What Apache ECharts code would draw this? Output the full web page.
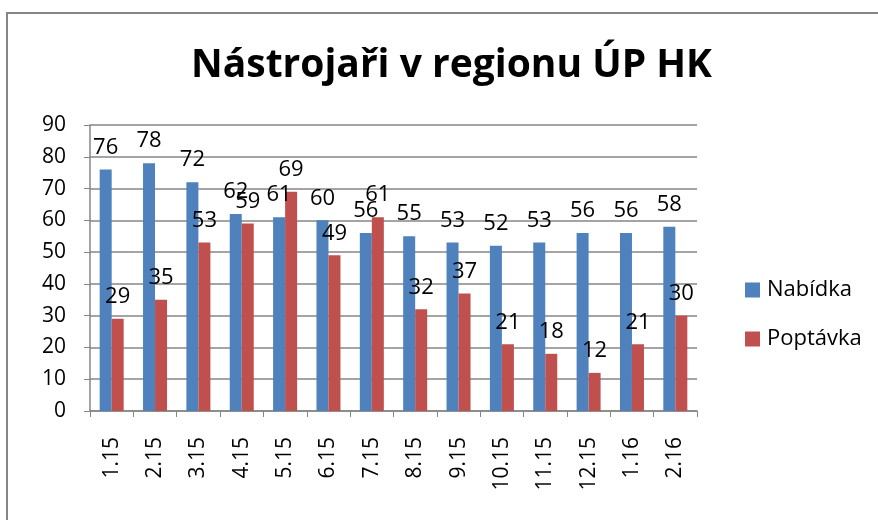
<!DOCTYPE html>
<html><head><meta charset="utf-8">
<script src="https://cdn.jsdelivr.net/npm/echarts@6/dist/echarts.min.js"></script>
<style>html,body{margin:0;padding:0;background:#fff}#c{width:878px;height:520px}</style>
</head><body><div id="c"></div>
<script>
const categories = ['1.15','2.15','3.15','4.15','5.15','6.15','7.15','8.15','9.15','10.15','11.15','12.15','1.16','2.16'];
const nabidka = [76,78,72,62,61,60,56,55,53,52,53,56,56,58];
const poptavka = [29,35,53,59,69,49,61,32,37,21,18,12,21,30];
const titleText = 'Nástrojaři v regionu ÚP HK';
const seriesNames = ['Nabídka','Poptávka'];

const font = '"Open Sans", "Liberation Sans", sans-serif';
const chart = echarts.init(document.getElementById('c'));
const lbl = {show:true, position:'top', distance:11, color:'#000', fontSize:22, fontFamily:font};
chart.setOption({
  animation:false,
  graphic:[{type:'rect', shape:{x:7,y:13,width:900,height:600}, style:{fill:'none', stroke:'#868686', lineWidth:2}}],
  title:{text:titleText, left:186, top:41, textStyle:{fontSize:39, fontWeight:'bold', color:'#000', fontFamily:font}},
  legend:{orient:'vertical', left:740, top:274, itemWidth:15, itemHeight:15, itemGap:27, icon:'rect',
    textStyle:{fontSize:22, color:'#000', fontFamily:font, padding:[0,0,0,2]}, data:seriesNames},
  grid:{left:90, right:181, top:125, bottom:109, outerBoundsMode:'none'},
  xAxis:{type:'category', data:categories,
    axisLine:{lineStyle:{color:'#868686', width:1.5}},
    axisTick:{show:true, length:6, lineStyle:{color:'#868686'}},
    axisLabel:{rotate:90, fontSize:21, color:'#000', margin:26, fontFamily:font}},
  yAxis:{type:'value', min:0, max:90, interval:10,
    axisLine:{show:true, lineStyle:{color:'#868686', width:1.5}},
    axisTick:{show:true, length:6, lineStyle:{color:'#868686'}},
    splitLine:{lineStyle:{color:'#868686', width:1.5}},
    axisLabel:{fontSize:21, color:'#000', margin:24, fontFamily:font}},
  series:[
    {name:seriesNames[0], type:'bar', data:nabidka, barWidth:12, barGap:'0%', itemStyle:{color:'#4F81BD'}, label:lbl},
    {name:seriesNames[1], type:'bar', data:poptavka, barWidth:12, barGap:'0%', itemStyle:{color:'#C0504D'}, label:lbl}
  ]
});
</script></body></html>
